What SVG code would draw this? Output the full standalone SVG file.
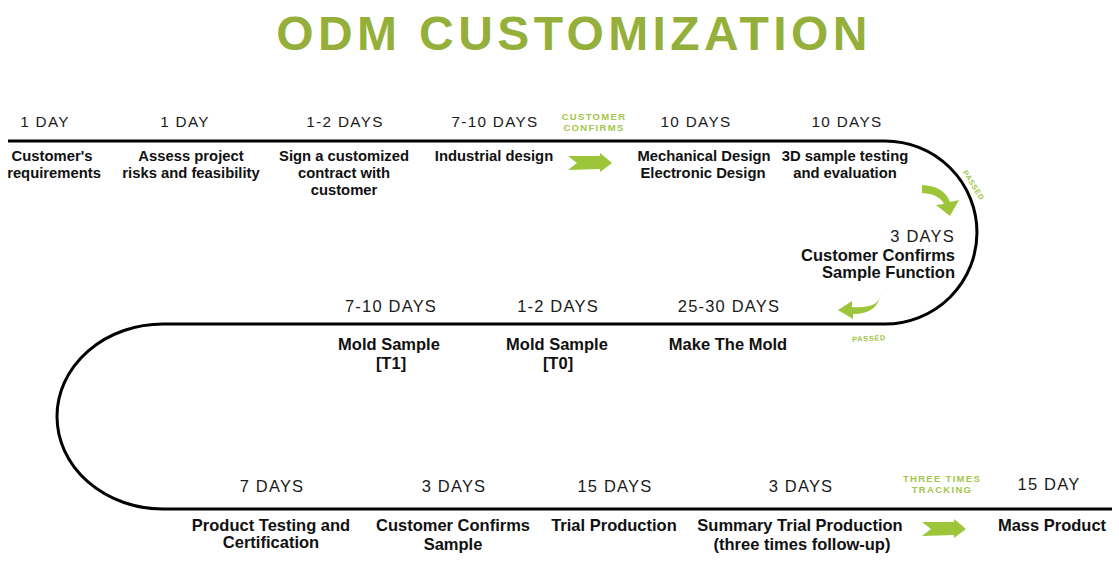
<svg xmlns="http://www.w3.org/2000/svg" width="1119" height="562" viewBox="0 0 1119 562">
<style>
.title{font-family:"Liberation Sans",Arial,sans-serif;font-weight:bold;font-size:48px;fill:#95b03a;letter-spacing:4.4px}
.day{font-family:"Liberation Sans",Arial,sans-serif;font-size:15.3px;fill:#1a1a1a;letter-spacing:1.3px;text-anchor:middle}
.day2{font-family:"Liberation Sans",Arial,sans-serif;font-size:16.5px;fill:#1a1a1a;letter-spacing:1.2px;text-anchor:middle}
.lbl{font-family:"Liberation Sans",Arial,sans-serif;font-weight:bold;font-size:14.8px;fill:#111;text-anchor:middle}
.lbl2{font-family:"Liberation Sans",Arial,sans-serif;font-weight:bold;font-size:16.5px;fill:#111;text-anchor:middle}
.grn{font-family:"Liberation Sans",Arial,sans-serif;font-weight:bold;font-size:9.5px;fill:#a3c64a;letter-spacing:1.3px;text-anchor:middle}
.sm{font-family:"Liberation Sans",Arial,sans-serif;font-weight:bold;font-size:7.5px;fill:#a3c64a;letter-spacing:0.6px;text-anchor:middle}
.arrow{fill:#9dc53a}
.track{fill:none;stroke:#000;stroke-width:3}
</style>
<defs>
<path id="straightArrow" d="M0 1 L32 1 L32 -2 L44 8 L32 17 L32 14 L0 15 L9 8 Z"/>
</defs>
<rect width="1119" height="562" fill="#fff"/>
<text class="title" x="574" y="50" text-anchor="middle">ODM CUSTOMIZATION</text>
<g id="connectors">
<path class="track" d="M 8 141 H 885 A 92 91.5 0 0 1 885 324 H 163 A 106 92.5 0 0 0 163 509 H 1112"/>
<use href="#straightArrow" class="arrow" transform="translate(568,155)"/>
<use href="#straightArrow" class="arrow" transform="translate(922,521)"/>
<path class="arrow" d="M 922 185 Q 944 186 950 202 L 959 200 L 950 216 L 936 205 L 944 204 Q 939 194 922 193 Z"/>
<path class="arrow" d="M 881 293 Q 880 309 852 307 L 852 301 L 838 310 L 853 319 L 853 314 Q 878 314 881 293 Z"/>
<text class="grn" x="594" y="119.5">CUSTOMER</text>
<text class="grn" x="594" y="131">CONFIRMS</text>
<text class="grn" x="942" y="482">THREE TIMES</text>
<text class="grn" x="942" y="493">TRACKING</text>
<text class="sm" transform="translate(974,185) rotate(58)" y="3">PASSED</text>
<text class="sm" transform="translate(869,338) rotate(-3)" y="3">PASSED</text>
</g>
<g id="n1"><text class="day" x="45" y="127">1 DAY</text><text class="lbl" x="52" y="161">Customer's</text><text class="lbl" x="54" y="178">requirements</text></g>
<g id="n2"><text class="day" x="185" y="127">1 DAY</text><text class="lbl" x="191" y="161">Assess project</text><text class="lbl" x="191" y="178">risks and feasibility</text></g>
<g id="n3"><text class="day" x="345" y="127">1-2 DAYS</text><text class="lbl" x="344" y="161">Sign a customized</text><text class="lbl" x="344" y="178">contract with</text><text class="lbl" x="344" y="195">customer</text></g>
<g id="n4"><text class="day" x="495" y="127">7-10 DAYS</text><text class="lbl" x="494" y="161">Industrial design</text></g>
<g id="n5"><text class="day" x="696" y="127">10 DAYS</text><text class="lbl" x="704" y="161">Mechanical Design</text><text class="lbl" x="703" y="178">Electronic Design</text></g>
<g id="n6"><text class="day" x="847" y="127">10 DAYS</text><text class="lbl" x="845" y="161">3D sample testing</text><text class="lbl" x="845" y="178">and evaluation</text></g>
<g id="n7"><text class="day2" x="955" y="242" style="text-anchor:end">3 DAYS</text><text class="lbl2" x="955" y="261" style="text-anchor:end">Customer Confirms</text><text class="lbl2" x="955" y="278" style="text-anchor:end">Sample Function</text></g>
<g id="n8"><text class="day2" x="729" y="312">25-30 DAYS</text><text class="lbl2" x="728" y="350">Make The Mold</text></g>
<g id="n9"><text class="day2" x="558" y="312">1-2 DAYS</text><text class="lbl2" x="557" y="350">Mold Sample</text><text class="lbl2" x="558" y="369">[T0]</text></g>
<g id="n10"><text class="day2" x="391" y="312">7-10 DAYS</text><text class="lbl2" x="389" y="350">Mold Sample</text><text class="lbl2" x="391" y="369">[T1]</text></g>
<g id="n11"><text class="day2" x="272" y="492">7 DAYS</text><text class="lbl2" x="271" y="531">Product Testing and</text><text class="lbl2" x="271" y="548">Certification</text></g>
<g id="n12"><text class="day2" x="454" y="492">3 DAYS</text><text class="lbl2" x="453" y="531">Customer Confirms</text><text class="lbl2" x="453" y="550">Sample</text></g>
<g id="n13"><text class="day2" x="615" y="492">15 DAYS</text><text class="lbl2" x="614" y="531">Trial Production</text></g>
<g id="n14"><text class="day2" x="801" y="492">3 DAYS</text><text class="lbl2" x="800" y="531">Summary Trial Production</text><text class="lbl2" x="802" y="550">(three times follow-up)</text></g>
<g id="n15"><text class="day2" x="1049" y="490">15 DAY</text><text class="lbl2" x="1052" y="531">Mass Product</text></g>
</svg>
